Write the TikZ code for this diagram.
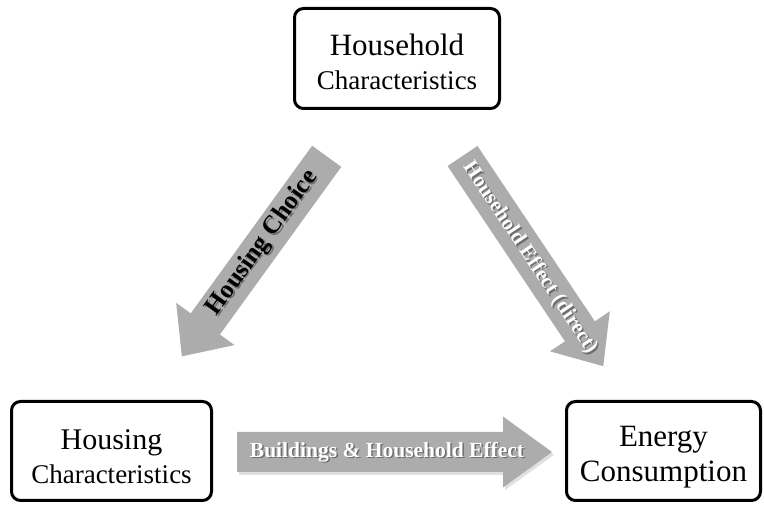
\documentclass[tikz,border=0pt]{standalone}
\usepackage{fontspec}
\setmainfont{Liberation Serif}
\definecolor{arrowgray}{RGB}{172,172,172}
\definecolor{shadegray}{RGB}{110,110,110}
\begin{document}
\begin{tikzpicture}[x=1pt,y=1pt,
  box/.style={draw=black, line width=3pt, rounded corners=9pt, fill=white, inner sep=0pt},
  boxtext/.style={align=center, inner sep=0pt},
  arrowbody/.style={fill=arrowgray},
  arrowshade/.style={fill=black, opacity=0.12},
  lbl/.style={inner sep=0pt, font=\bfseries\fontsize{#1}{#1}\selectfont},
  lblshade/.style={lbl=#1, text=shadegray},
]
\useasboundingbox (0,0) rectangle (764,505);
% boxes
\node[box, minimum width=205pt, minimum height=100pt] (hh) at (397,446.5) {};
\node[boxtext] (hht) at ([yshift=-3.5pt]hh.center)
  {\fontsize{31}{31}\selectfont Household\\[14pt]\fontsize{27}{27}\selectfont Characteristics};
\node[box, minimum width=200pt, minimum height=99pt] (hc) at (111.5,54) {};
\node[boxtext] (hct) at ([yshift=-6pt]hc.center)
  {\fontsize{30}{30}\selectfont Housing\\[8pt]\fontsize{27}{27}\selectfont Characteristics};
\node[box, minimum width=194pt, minimum height=99pt] (ec) at (663.5,54) {};
\node[boxtext] (ect) at ([yshift=-6pt]ec.center)
  {\fontsize{31}{31}\selectfont Energy\\[7pt]\fontsize{31}{31}\selectfont Consumption};
% horizontal arrow
\begin{scope}[shift={(237,53)}]
  \fill[arrowshade] (2,-23) -- (268,-23) -- (268,-38) -- (317,-3) -- (268,32) -- (268,17) -- (2,17) -- cycle;
  \fill[arrowbody] (0,-20) -- (266,-20) -- (266,-35.5) -- (315,0) -- (266,35.5) -- (266,20) -- (0,20) -- cycle;
\end{scope}
% left diagonal arrow
\begin{scope}[shift={(326.7,348.7)}, rotate=234.1]
  \fill[arrowbody] (0,-18) -- (207,-18) -- (207,-36) -- (247,0) -- (207,36) -- (207,18) -- (0,18) -- cycle;
\end{scope}
% right diagonal arrow
\begin{scope}[shift={(462.5,349)}, rotate=-56.2]
  \fill[arrowbody] (0,-18) -- (211,-18) -- (211,-36) -- (253,0) -- (211,36) -- (211,18) -- (0,18) -- cycle;
\end{scope}
% labels (with drop-shadow copies)
\node[lblshade=21.5] (bhs) at (388.5,51.5) {Buildings \& Household Effect};
\node[lbl=21.5, text=white] (bh) at (387,53) {Buildings \& Household Effect};
\node[lblshade=25.5, rotate=54.1] (hcs) at (264,260.5) {Housing Choice};
\node[lbl=25.5, text=black, rotate=54.1] (hcl) at (262.5,262) {Housing Choice};
\node[lblshade=21, rotate=-56.2] (hes) at (531.4,245.6) {Household Effect (direct)};
\node[lbl=21, text=white, rotate=-56.2] (he) at (529.9,247.1) {Household Effect (direct)};
\end{tikzpicture}
\end{document}
